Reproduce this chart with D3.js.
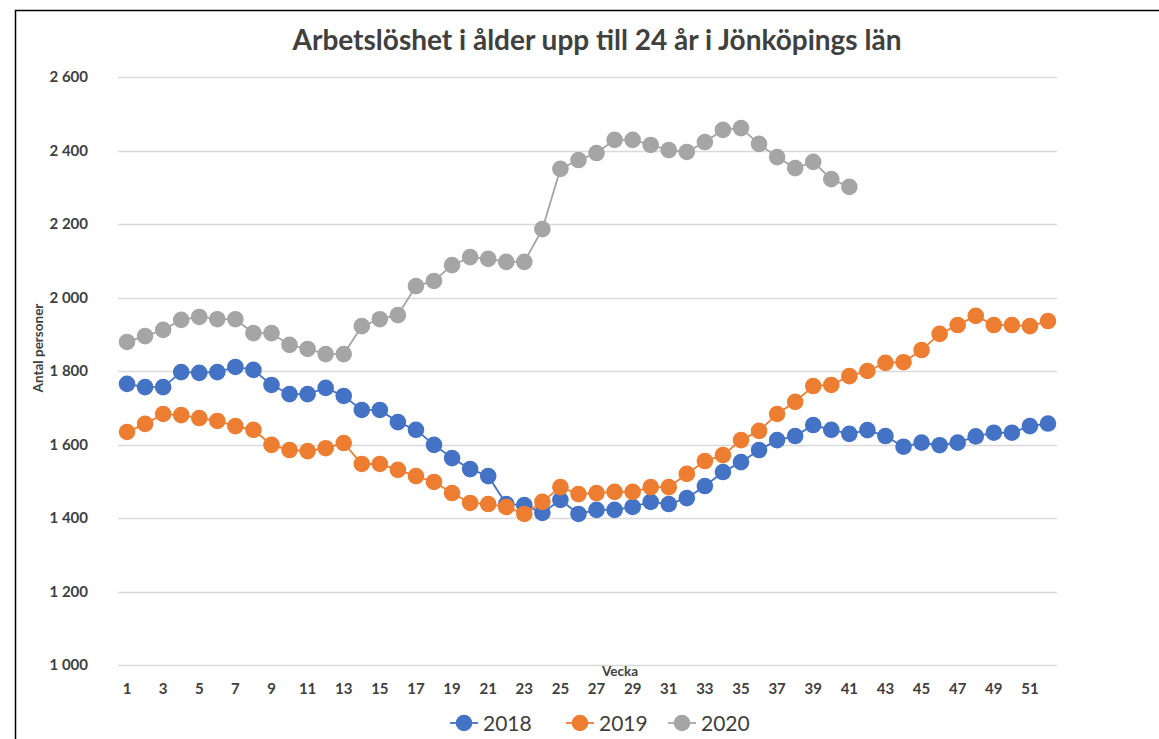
<!DOCTYPE html>
<html>
<head>
<meta charset="utf-8">
<script src="https://cdn.jsdelivr.net/npm/d3@7"></script>
<style>
  html, body { margin: 0; padding: 0; background: #fff; }
  svg { display: block; }
</style>
</head>
<body>
<svg id="chart" width="1159" height="739"></svg>
<script>
const title = "Arbetslöshet i ålder upp till 24 år i Jönköpings län";
const yTitle = "Antal personer";
const xTitle = "Vecka";
const weeks = d3.range(1, 53);
const yTicks = [1000, 1200, 1400, 1600, 1800, 2000, 2200, 2400, 2600];
const seriesNames = ["2018", "2019", "2020"];
const seriesColors = ["#4472C4", "#ED7D31", "#A5A5A5"];

const v2018 = [1765, 1756, 1756, 1797, 1795, 1797, 1811, 1803, 1762, 1737,
  1737, 1754, 1732, 1694, 1694, 1661, 1640, 1599, 1563, 1533,
  1514, 1438, 1435, 1414, 1449, 1411, 1422, 1422, 1430, 1444,
  1438, 1454, 1487, 1525, 1552, 1585, 1612, 1623, 1653, 1640,
  1629, 1639, 1623, 1594, 1605, 1598, 1605, 1622, 1632, 1632,
  1650, 1657];
const v2019 = [1634, 1656, 1683, 1680, 1672, 1664, 1650, 1640, 1599, 1585,
  1582, 1590, 1604, 1547, 1547, 1531, 1514, 1498, 1468, 1441,
  1438, 1430, 1411, 1444, 1484, 1465, 1468, 1471, 1471, 1484,
  1484, 1520, 1555, 1571, 1612, 1637, 1683, 1716, 1759, 1762,
  1786, 1800, 1822, 1824, 1857, 1901, 1925, 1950, 1925, 1925,
  1922, 1936];
const v2020 = [1879, 1895, 1912, 1939, 1947, 1941, 1941, 1903, 1903, 1871,
  1860, 1846, 1846, 1922, 1941, 1952, 2031, 2045, 2088, 2110,
  2105, 2097, 2097, 2186, 2350, 2374, 2393, 2429, 2429, 2415,
  2401, 2396, 2423, 2456, 2461, 2418, 2382, 2352, 2369, 2322,
  2301];
const seriesValues = [v2018, v2019, v2020];

const svg = d3.select("#chart");
const W = 1159, H = 739;
const plot = { left: 118, right: 1057, top: 77, bottom: 665 };
const textColor = "#404040";
const font = "Lato, 'Open Sans', 'Liberation Sans', sans-serif";

// chart border (left and top visible)
svg.append("path")
  .attr("d", `M15.5,${H} L15.5,10.5 L${W},10.5`)
  .attr("fill", "none").attr("stroke", "#000").attr("stroke-width", 1.5);

const x = d3.scaleBand().domain(weeks).range([plot.left, plot.right]).paddingInner(0).paddingOuter(0);
const y = d3.scaleLinear().domain([1000, 2600]).range([plot.bottom, plot.top]);
const cx = w => x(w) + x.bandwidth() / 2;

// gridlines
svg.append("g").selectAll("line").data(yTicks).join("line")
  .attr("x1", plot.left).attr("x2", plot.right)
  .attr("y1", d => Math.round(y(d)) + 0.5).attr("y2", d => Math.round(y(d)) + 0.5)
  .attr("stroke", "#D9D9D9").attr("stroke-width", 1.3);

// y axis labels
const fmt = d => d3.format(",")(d).replace(",", " ");
const yAxis = d3.axisLeft(y).tickValues(yTicks).tickFormat(fmt).tickSize(0).tickPadding(0);
const yg = svg.append("g").attr("transform", `translate(88,0)`).call(yAxis);
yg.select(".domain").remove();
yg.selectAll("text").attr("font-family", font).attr("font-weight", "bold")
  .attr("font-size", 15).attr("fill", textColor);

// x axis labels (odd weeks)
const xAxis = d3.axisBottom(x).tickValues(weeks.filter(w => w % 2 === 1)).tickSize(0).tickPadding(0);
const xg = svg.append("g").attr("transform", `translate(0,683)`).call(xAxis);
xg.select(".domain").remove();
xg.selectAll("text").attr("font-family", font).attr("font-weight", "bold")
  .attr("font-size", 15).attr("fill", textColor);

// title
svg.append("text").attr("x", 597).attr("y", 50).attr("text-anchor", "middle")
  .attr("font-family", font).attr("font-weight", "bold").attr("font-size", 28)
  .attr("fill", textColor).text(title);

// axis titles
svg.append("text").attr("transform", "translate(43,348) rotate(-90)")
  .attr("text-anchor", "middle").attr("font-family", font).attr("font-weight", "bold")
  .attr("font-size", 13.5).attr("fill", textColor).text(yTitle);
svg.append("text").attr("x", 620).attr("y", 676).attr("text-anchor", "middle")
  .attr("font-family", font).attr("font-weight", "bold")
  .attr("font-size", 13.5).attr("fill", textColor).text(xTitle);

// series
const line = d3.line().x((d, i) => cx(weeks[i])).y(d => y(d));
seriesValues.forEach((vals, si) => {
  const g = svg.append("g");
  g.append("path").datum(vals).attr("d", line).attr("fill", "none")
    .attr("stroke", seriesColors[si]).attr("stroke-width", 1.8);
  g.selectAll("circle").data(vals).join("circle")
    .attr("cx", (d, i) => cx(weeks[i])).attr("cy", d => y(d)).attr("r", 8.3)
    .attr("fill", seriesColors[si]);
});

// legend
const legendX = [450, 566, 668];
seriesNames.forEach((name, i) => {
  const g = svg.append("g").attr("transform", `translate(${legendX[i]},723)`);
  g.append("line").attr("x1", 0).attr("x2", 28).attr("y1", 0).attr("y2", 0)
    .attr("stroke", seriesColors[i]).attr("stroke-width", 1.8);
  g.append("circle").attr("cx", 14).attr("cy", 0).attr("r", 8.3).attr("fill", seriesColors[i]);
  g.append("text").attr("x", 33).attr("y", 7.5).attr("font-family", font)
    .attr("font-size", 21).attr("fill", textColor).text(name);
});
</script>
</body>
</html>
